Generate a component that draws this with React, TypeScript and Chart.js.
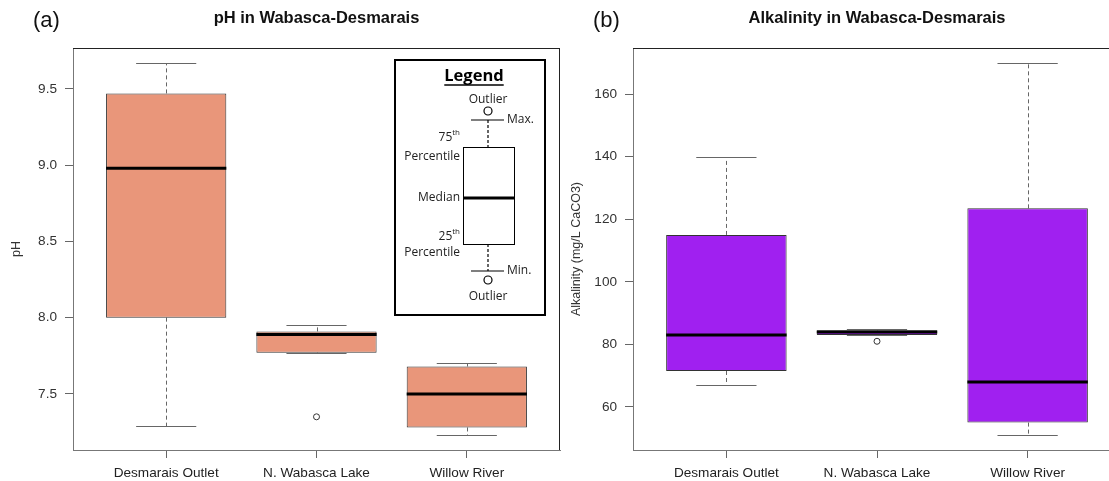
import React, { useEffect, useRef } from "react";
import { Chart, registerables } from "chart.js";

Chart.register(...registerables);

// ---------- data ----------
const categories = ["Desmarais Outlet", "N. Wabasca Lake", "Willow River"];

const phMin = [7.29, 7.77, 7.23];
const phQ1 = [8.0, 7.77, 7.28];
const phMedian = [8.98, 7.89, 7.5];
const phQ3 = [9.47, 7.91, 7.68];
const phMax = [9.67, 7.95, 7.7];
const phOutliers = [[], [7.35], []];
const phTicks = [7.5, 8.0, 8.5, 9.0, 9.5];

const alkMin = [67, 83, 51];
const alkQ1 = [71.5, 83, 55];
const alkMedian = [83, 84, 68];
const alkQ3 = [115, 84.5, 123.5];
const alkMax = [140, 85, 170];
const alkOutliers = [[], [81], []];
const alkTicks = [60, 80, 100, 120, 140, 160];

type Panel = {
  tag: string;
  title: string;
  yTitle: string;
  min: number[];
  q1: number[];
  med: number[];
  q3: number[];
  max: number[];
  outliers: number[][];
  ticks: number[];
  decimals: number;
  fill: string;
  showLegend: boolean;
};

const panels: Panel[] = [
  {
    tag: "(a)",
    title: "pH in Wabasca-Desmarais",
    yTitle: "pH",
    min: phMin,
    q1: phQ1,
    med: phMedian,
    q3: phQ3,
    max: phMax,
    outliers: phOutliers,
    ticks: phTicks,
    decimals: 1,
    fill: "#E9967A",
    showLegend: true,
  },
  {
    tag: "(b)",
    title: "Alkalinity in Wabasca-Desmarais",
    yTitle: "Alkalinity (mg/L CaCO3)",
    min: alkMin,
    q1: alkQ1,
    med: alkMedian,
    q3: alkQ3,
    max: alkMax,
    outliers: alkOutliers,
    ticks: alkTicks,
    decimals: 0,
    fill: "#A020F0",
    showLegend: false,
  },
];

const FONT = '"Liberation Sans", Arial, sans-serif';
const LFONT = '"Open Sans", "Noto Sans", sans-serif';

function drawLegend(ctx: CanvasRenderingContext2D, area: any) {
  const L = area.right - 165;
  const T = area.top + 12;
  const W = 150;
  const H = 255;
  const cx = L + 93;
  ctx.save();
  ctx.strokeStyle = "#000";
  ctx.lineWidth = 2;
  ctx.setLineDash([]);
  ctx.strokeRect(L, T, W, H);

  ctx.fillStyle = "#000";
  ctx.textBaseline = "middle";
  ctx.textAlign = "center";
  ctx.font = `bold 16.5px ${LFONT}`;
  const lw = ctx.measureText("Legend").width;
  ctx.fillText("Legend", L + 79, T + 16);
  ctx.lineWidth = 1.5;
  ctx.beginPath();
  ctx.moveTo(L + 79 - lw / 2, T + 25);
  ctx.lineTo(L + 79 + lw / 2, T + 25);
  ctx.stroke();

  ctx.font = `12px ${LFONT}`;
  ctx.fillStyle = "#222";
  ctx.fillText("Outlier", cx, T + 40);
  ctx.fillText("Outlier", cx, T + 237);

  ctx.strokeStyle = "#000";
  ctx.lineWidth = 1.2;
  ctx.beginPath();
  ctx.arc(cx, T + 51, 4, 0, Math.PI * 2);
  ctx.stroke();
  ctx.beginPath();
  ctx.arc(cx, T + 220, 4, 0, Math.PI * 2);
  ctx.stroke();
  ctx.beginPath();
  ctx.moveTo(cx - 17, T + 60);
  ctx.lineTo(cx + 16, T + 60);
  ctx.moveTo(cx - 17, T + 211);
  ctx.lineTo(cx + 16, T + 211);
  ctx.stroke();
  ctx.setLineDash([3, 2]);
  ctx.beginPath();
  ctx.moveTo(cx, T + 60);
  ctx.lineTo(cx, T + 87);
  ctx.moveTo(cx, T + 184);
  ctx.lineTo(cx, T + 211);
  ctx.stroke();
  ctx.setLineDash([]);
  ctx.lineWidth = 1;
  ctx.strokeRect(L + 68.5, T + 87.5, 51, 97);
  ctx.lineWidth = 3;
  ctx.beginPath();
  ctx.moveTo(L + 68.5, T + 138);
  ctx.lineTo(L + 119.5, T + 138);
  ctx.stroke();

  ctx.textAlign = "left";
  ctx.fillText("Max.", cx + 19, T + 60);
  ctx.fillText("Min.", cx + 19, T + 211);

  ctx.textAlign = "right";
  const rx = L + 65;
  ctx.fillText("Percentile", rx, T + 97);
  ctx.fillText("Median", rx, T + 138);
  ctx.fillText("Percentile", rx, T + 193);
  const sup = (num: string, y: number) => {
    ctx.font = `8px ${LFONT}`;
    const sw = ctx.measureText("th").width;
    ctx.fillText("th", rx, y - 5);
    ctx.font = `12px ${LFONT}`;
    ctx.fillText(num, rx - sw, y);
  };
  sup("75", T + 78);
  sup("25", T + 177);
  ctx.restore();
}

function makePlugin(p: Panel) {
  return {
    id: "boxExtras",
    beforeDatasetsDraw(chart: any) {
      const { ctx, scales } = chart;
      const xs = scales.x;
      const ys = scales.y;
      ctx.save();
      ctx.strokeStyle = "#666";
      ctx.lineWidth = 1;
      categories.forEach((_, i) => {
        const x = Math.round(xs.getPixelForValue(i + 1)) + 0.5;
        const cl = xs.getPixelForValue(i + 1 - 0.2);
        const cr = xs.getPixelForValue(i + 1 + 0.2);
        const yMax = Math.round(ys.getPixelForValue(p.max[i])) + 0.5;
        const yMin = Math.round(ys.getPixelForValue(p.min[i])) + 0.5;
        const yQ3 = ys.getPixelForValue(p.q3[i]);
        const yQ1 = ys.getPixelForValue(p.q1[i]);
        ctx.setLineDash([4, 3]);
        ctx.beginPath();
        ctx.moveTo(x, yQ3);
        ctx.lineTo(x, yMax);
        ctx.moveTo(x, yQ1);
        ctx.lineTo(x, yMin);
        ctx.stroke();
        ctx.setLineDash([]);
        ctx.beginPath();
        ctx.moveTo(cl, yMax);
        ctx.lineTo(cr, yMax);
        ctx.moveTo(cl, yMin);
        ctx.lineTo(cr, yMin);
        ctx.stroke();
      });
      ctx.restore();
    },
    afterDatasetsDraw(chart: any) {
      const { ctx, scales } = chart;
      const xs = scales.x;
      const ys = scales.y;
      ctx.save();
      ctx.strokeStyle = "#000";
      ctx.lineWidth = 3;
      categories.forEach((_, i) => {
        const l = xs.getPixelForValue(i + 1 - 0.4);
        const r = xs.getPixelForValue(i + 1 + 0.4);
        const y = ys.getPixelForValue(p.med[i]);
        ctx.beginPath();
        ctx.moveTo(l, y);
        ctx.lineTo(r, y);
        ctx.stroke();
      });
      ctx.restore();
    },
    afterDraw(chart: any) {
      const { ctx, chartArea: a } = chart;
      ctx.save();
      ctx.strokeStyle = "#222";
      ctx.lineWidth = 1;
      ctx.beginPath();
      ctx.moveTo(a.left, a.top + 0.5);
      ctx.lineTo(a.right, a.top + 0.5);
      ctx.moveTo(a.right - 0.5, a.top);
      ctx.lineTo(a.right - 0.5, a.bottom);
      ctx.stroke();
      ctx.fillStyle = "#111";
      ctx.textAlign = "center";
      ctx.textBaseline = "middle";
      ctx.font = `bold 16.5px ${FONT}`;
      ctx.fillText(p.title, (a.left + a.right) / 2, 18);
      ctx.textAlign = "left";
      ctx.font = `22px ${FONT}`;
      ctx.fillText(p.tag, a.left - 40, 21);
      ctx.restore();
      if (p.showLegend) drawLegend(ctx, a);
    },
  };
}

function BoxChart({ p, width }: { p: Panel; width: number }) {
  const ref = useRef<HTMLCanvasElement | null>(null);
  useEffect(() => {
    if (!ref.current) return;
    const all = [...p.min, ...p.max, ...p.outliers.flat()];
    const lo = Math.min(...all);
    const hi = Math.max(...all);
    const pad = (hi - lo) * 0.04;
    const boxData = categories.map((_, i) => ({ x: i + 1, y: [p.q1[i], p.q3[i]] }));
    const outData: { x: number; y: number }[] = [];
    p.outliers.forEach((arr, i) => arr.forEach((v) => outData.push({ x: i + 1, y: v })));

    const chart = new Chart(ref.current, {
      data: {
        datasets: [
          {
            type: "bar",
            data: boxData as any,
            backgroundColor: p.fill,
            borderColor: "#333",
            borderWidth: 1,
            borderSkipped: false,
            categoryPercentage: 0.8,
            barPercentage: 1,
          } as any,
          {
            type: "scatter",
            data: outData,
            pointStyle: "circle",
            pointRadius: 3,
            backgroundColor: "#fff",
            borderColor: "#333",
            borderWidth: 1,
          } as any,
        ],
      },
      options: {
        responsive: false,
        animation: false,
        layout: { padding: { top: 48, right: 1, left: 0, bottom: 0 } },
        plugins: {
          legend: { display: false },
          tooltip: { enabled: false },
          title: { display: false },
        },
        scales: {
          x: {
            type: "linear",
            offset: false,
            min: 1 - 0.5 - 0.12,
            max: 3 + 0.5 + 0.12,
            afterBuildTicks: (s: any) => {
              s.ticks = categories.map((_, i) => ({ value: i + 1 }));
            },
            afterFit: (s: any) => {
              s.height = 31;
            },
            ticks: {
              callback: (v: any) => categories[Math.round(Number(v)) - 1] ?? "",
              color: "#222",
              font: { family: FONT, size: 13.6 },
              padding: 7,
              maxRotation: 0,
              autoSkip: false,
            },
            grid: {
              offset: false,
              drawOnChartArea: false,
              drawTicks: true,
              tickLength: 8,
              color: "#666",
            },
            border: { display: true, color: "#777", width: 1 },
          },
          y: {
            type: "linear",
            min: lo - pad,
            max: hi + pad,
            afterBuildTicks: (s: any) => {
              s.ticks = p.ticks.map((v) => ({ value: v }));
            },
            afterFit: (s: any) => {
              s.width = 73;
            },
            ticks: {
              callback: (v: any) => Number(v).toFixed(p.decimals),
              color: "#333",
              font: { family: FONT, size: 13.6 },
              padding: 8,
            },
            grid: { drawOnChartArea: false, drawTicks: true, tickLength: 8, color: "#666" },
            border: { display: true, color: "#777", width: 1 },
            title: {
              display: true,
              text: p.yTitle,
              color: "#333",
              font: { family: FONT, size: 12.5 },
              padding: { top: 9, bottom: 0 },
            },
          },
        },
      },
      plugins: [makePlugin(p) as any],
    });
    return () => chart.destroy();
  }, [p, width]);
  return <canvas ref={ref} width={width} height={481} style={{ display: "block" }} />;
}

export default function App() {
  return (
    <div
      style={{
        position: "fixed",
        left: 0,
        top: 0,
        width: 1109,
        height: 481,
        overflow: "hidden",
        background: "#fff",
      }}
    >
      <div style={{ position: "absolute", left: 0, top: 0 }}>
        <BoxChart p={panels[0]} width={565} />
      </div>
      <div style={{ position: "absolute", left: 560, top: 0 }}>
        <BoxChart p={panels[1]} width={566} />
      </div>
    </div>
  );
}
